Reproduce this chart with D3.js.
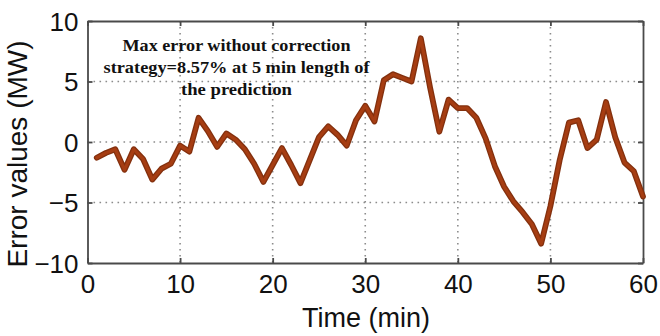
<!DOCTYPE html>
<html><head><meta charset="utf-8">
<script src="https://cdn.jsdelivr.net/npm/d3@7"></script>
<style>html,body{margin:0;padding:0;background:#fff;}svg{display:block;}</style>
</head><body>
<script>
const times = d3.range(1, 61);
const errorValues = [
  -1.3, -0.9, -0.6, -2.3, -0.6, -1.4, -3.1, -2.2, -1.8, -0.3,
  -0.8, 2.0, 0.9, -0.4, 0.7, 0.2, -0.6, -1.8, -3.3, -1.9,
  -0.5, -1.9, -3.4, -1.5, 0.4, 1.3, 0.6, -0.3, 1.8, 3.0,
  1.7, 5.1, 5.6, 5.3, 5.0, 8.57, 4.5, 0.85, 3.5, 2.8,
  2.8, 2.0, 0.3, -2.0, -3.7, -4.9, -5.8, -6.8, -8.4, -5.3,
  -1.5, 1.6, 1.8, -0.5, 0.2, 3.3, 0.4, -1.7, -2.4, -4.5
];
const xTicks = [0, 10, 20, 30, 40, 50, 60];
const yTicks = [-10, -5, 0, 5, 10];
const annotationLines = ["Max error without correction", "strategy=8.57% at 5 min length of", "the prediction"];
const xTitle = "Time (min)";
const yTitle = "Error values (MW)";

(function () {
const W = 660, H = 336;
const pL = 87.5, pR = 643, pT = 21, pB = 263;
const svg = d3.select("body").append("svg").attr("width", W).attr("height", H);

const x = d3.scaleLinear().domain([0, 60]).range([pL, pR]);
const y = d3.scaleLinear().domain([-10, 10]).range([pB, pT]);

// grid
const grid = svg.append("g").attr("stroke", "#8c8c8c").attr("stroke-width", 1.6).attr("stroke-dasharray", "1.6,4.4");
xTicks.filter(t => t > 0 && t < 60).forEach(t => {
  grid.append("line").attr("x1", x(t)).attr("x2", x(t)).attr("y1", pT).attr("y2", pB);
});
yTicks.filter(t => t > -10 && t < 10).forEach(t => {
  grid.append("line").attr("x1", pL).attr("x2", pR).attr("y1", y(t)).attr("y2", y(t));
});

// axes (MATLAB style box with inward ticks)
const axColor = "#4a4a4a";
const xb = svg.append("g").attr("transform", `translate(0,${pB})`)
  .call(d3.axisBottom(x).tickValues(xTicks).tickSizeInner(-5).tickSizeOuter(0).tickPadding(12));
const xt = svg.append("g").attr("transform", `translate(0,${pT})`)
  .call(d3.axisTop(x).tickValues(xTicks).tickSizeInner(-5).tickSizeOuter(0).tickFormat(""));
const yl = svg.append("g").attr("transform", `translate(${pL},0)`)
  .call(d3.axisLeft(y).tickValues(yTicks).tickSizeInner(-5).tickSizeOuter(0).tickPadding(9));
const yr = svg.append("g").attr("transform", `translate(${pR},0)`)
  .call(d3.axisRight(y).tickValues(yTicks).tickSizeInner(-5).tickSizeOuter(0).tickFormat(""));
[xb, xt, yl, yr].forEach(g => {
  g.select(".domain").attr("stroke", axColor).attr("stroke-width", 1.8);
  g.selectAll(".tick line").attr("stroke", axColor).attr("stroke-width", 1.8);
});
xb.selectAll(".tick text").attr("font-family", "Liberation Sans, Arial, sans-serif")
  .attr("font-size", 26).attr("fill", "#111").attr("dy", "0.71em");
yl.selectAll(".tick text").attr("font-family", "Liberation Sans, Arial, sans-serif")
  .attr("font-size", 26).attr("fill", "#111").attr("dy", "0.36em");

// line
const line = d3.line().x((d, i) => x(times[i])).y(d => y(d));
svg.append("path").datum(errorValues).attr("d", line)
  .attr("fill", "none").attr("stroke", "#83300e").attr("stroke-width", 5.8)
  .attr("stroke-linejoin", "round").attr("stroke-linecap", "round");
svg.append("path").datum(errorValues).attr("d", line)
  .attr("fill", "none").attr("stroke", "#a63d12").attr("stroke-width", 3.2)
  .attr("stroke-linejoin", "round").attr("stroke-linecap", "round");

// annotation
const annY = [51, 73, 95];
const annW = [228, 266, 111];
annotationLines.forEach((t, i) => {
  svg.append("text").attr("x", 236.5).attr("y", annY[i]).attr("text-anchor", "middle")
    .attr("font-family", "Liberation Serif, Times New Roman, serif").attr("font-weight", "bold")
    .attr("font-size", 16.5).attr("fill", "#111")
    .attr("textLength", annW[i]).attr("lengthAdjust", "spacingAndGlyphs").text(t);
});

// axis titles
svg.append("text").attr("x", 366).attr("y", 327).attr("text-anchor", "middle")
  .attr("font-family", "Liberation Sans, Arial, sans-serif").attr("font-size", 27).attr("fill", "#111")
  .text(xTitle);
svg.append("text").attr("transform", `translate(27,154) rotate(-90)`).attr("text-anchor", "middle")
  .attr("font-family", "Liberation Sans, Arial, sans-serif").attr("font-size", 28).attr("fill", "#111")
  .text(yTitle);
})();
</script>
</body></html>
